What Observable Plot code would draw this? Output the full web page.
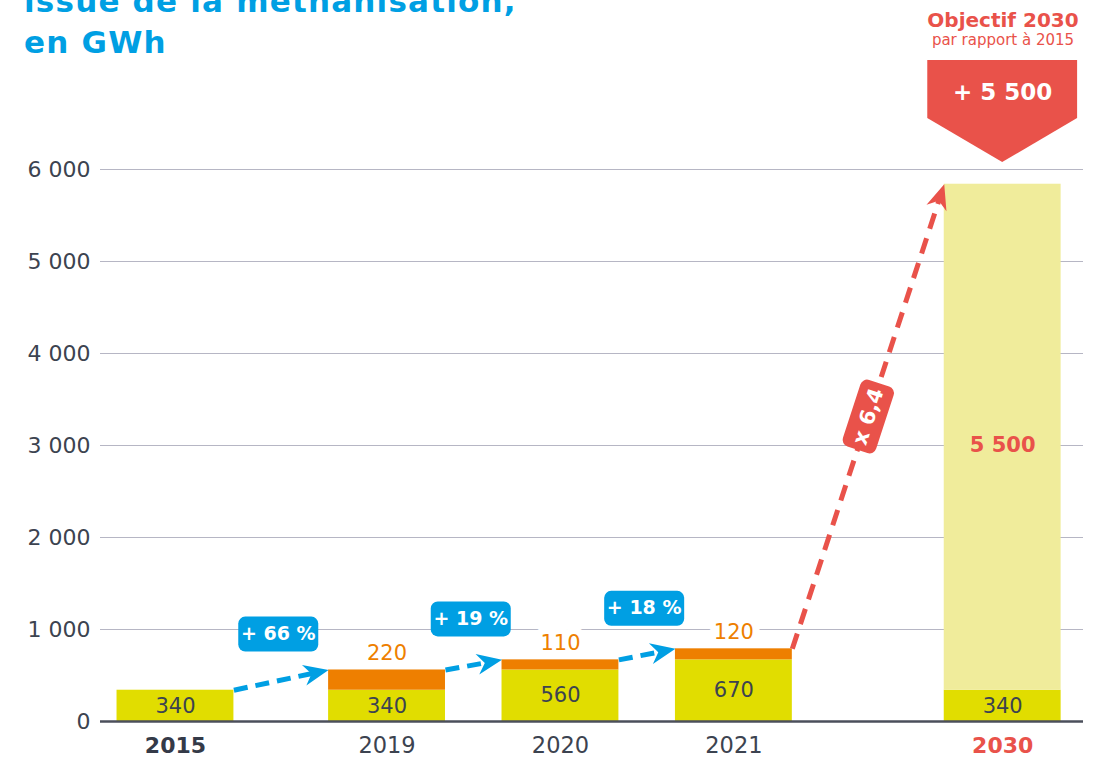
<!DOCTYPE html>
<html><head><meta charset="utf-8">
<script src="https://cdn.jsdelivr.net/npm/d3@7"></script>
<script src="https://cdn.jsdelivr.net/npm/@observablehq/plot@0.6"></script>
<style>
html,body{margin:0;padding:0;background:#fff;overflow:hidden}
#wrap{position:relative;width:1098px;height:758px;overflow:hidden;font-family:"DejaVu Sans",sans-serif}
#chart{position:absolute;left:0;top:0}
#title{position:absolute;left:24px;top:-19px;font-size:31px;font-weight:bold;line-height:41px;color:#009fe3;white-space:nowrap;letter-spacing:1.2px}
.obj{position:absolute;left:903px;width:200px;text-align:center;color:#e9524a;line-height:1;white-space:nowrap}
#obj1{top:10px;font-size:20px;font-weight:bold}
#obj2{top:33px;font-size:15px}
</style></head>
<body>
<div id="wrap">
  <div id="chart"></div>
  <div id="title">issue de la méthanisation,<br>en GWh</div>
  <div class="obj" id="obj1">Objectif 2030</div>
  <div class="obj" id="obj2">par rapport à 2015</div>
</div>
<script>
// ---- data ----
const years = ["2015", "2019", "2020", "2021", "2030"];
const base = [340, 340, 560, 670, 340];        // yellow part
const increase = [0, 220, 110, 120, 0];        // orange part (annual increase)
const objective = [0, 0, 0, 0, 5500];          // light part (2030 objective)
const growthLabels = ["+ 66 %", "+ 19 %", "+ 18 %"];
const multiplierLabel = "x 6,4";
const targetLabel = "+ 5 500";
const yTicks = [0, 1000, 2000, 3000, 4000, 5000, 6000];

// ---- layout ----
const slot = [0, 1.22, 2.22, 3.22, 4.77];
const halfBar = 0.337;
const xDomain = [-0.4323, 5.236];
const yDomain = [0, 6000];
const W = 1098, H = 758, mL = 100, mR = 15, mT = 169, mB = 37;

const C = {
  yellow: "#e1dd00", orange: "#ee7f00", light: "#f0ec9b", red: "#e9524a",
  blue: "#009fe3", text: "#3c4350", grid: "#b6b6c4", base: "#4b4f5b", dark: "#343a48"
};

const rows = years.map((year, i) => ({
  year, i, x: slot[i], base: base[i], inc: increase[i], obj: objective[i],
  top: base[i] + increase[i], total: base[i] + increase[i] + objective[i]
}));

const xs = Plot.scale({x: {domain: xDomain, range: [mL, W - mR]}});
const ys = Plot.scale({y: {domain: yDomain, range: [H - mB, mT]}});

// arrows between consecutive bars
const arrows = rows.slice(0, -1).map((r, i) => {
  const n = rows[i + 1];
  const x1 = r.x + halfBar, y1 = r.total, x2 = n.x - halfBar, y2 = n.total;
  const px1 = xs.apply(x1), py1 = ys.apply(y1), px2 = xs.apply(x2), py2 = ys.apply(y2);
  const angle = Math.atan2(py2 - py1, px2 - px1);
  const back = 14;
  const ex = xs.invert(px2 - back * Math.cos(angle)), ey = ys.invert(py2 - back * Math.sin(angle));
  return {
    x1, y1, x2, y2, ex, ey, angle,
    mx: (x1 + x2) / 2, my: (y1 + y2) / 2,
    label: i < growthLabels.length ? growthLabels[i] : multiplierLabel,
    color: i < growthLabels.length ? C.blue : C.red
  };
});
const blueArrows = arrows.filter(a => a.color === C.blue);
const redArrows = arrows.filter(a => a.color === C.red);

function rot(x, y, a) { const c = Math.cos(a), s = Math.sin(a); return [x * c - y * s, x * s + y * c]; }
function dart(a, len, wid, notch) {
  return {draw(ctx) {
    const pts = [[0, 0], [-len, -wid / 2], [-len * notch, 0], [-len, wid / 2]].map(([x, y]) => rot(x, y, a));
    ctx.moveTo(...pts[0]); pts.slice(1).forEach(p => ctx.lineTo(...p)); ctx.closePath();
  }};
}
function roundRect(w, h, r, a) {
  return {draw(ctx) {
    const P = (x, y) => rot(x, y, a);
    ctx.moveTo(...P(-w / 2 + r, -h / 2));
    ctx.arcTo(...P(w / 2, -h / 2), ...P(w / 2, h / 2), r);
    ctx.arcTo(...P(w / 2, h / 2), ...P(-w / 2, h / 2), r);
    ctx.arcTo(...P(-w / 2, h / 2), ...P(-w / 2, -h / 2), r);
    ctx.arcTo(...P(-w / 2, -h / 2), ...P(w / 2, -h / 2), r);
    ctx.closePath();
  }};
}

// objective banner (pentagon) above 2030 bar
const s4 = slot[4];
const banner = [
  {x: s4 - 0.432, y1: 6555, y2: 7185},
  {x: s4, y1: 6076, y2: 7185},
  {x: s4 + 0.432, y1: 6555, y2: 7185}
];

const fmt = d => d3.format(",")(d).replace(/,/g, " ");

const plot = Plot.plot({
  width: W, height: H,
  marginLeft: mL, marginRight: mR, marginTop: mT, marginBottom: mB,
  x: {domain: xDomain, axis: null},
  y: {domain: yDomain, axis: null},
  style: {fontFamily: "DejaVu Sans, sans-serif", background: "transparent", overflow: "visible"},
  marks: [
    Plot.ruleY(yTicks.filter(d => d > 0), {stroke: C.grid, strokeWidth: 1}),
    Plot.text(yTicks, {y: d => d, frameAnchor: "left", dx: -10, textAnchor: "end", text: fmt, fontSize: 22, fill: C.text}),
    // bars
    Plot.rectY(rows, {x1: d => d.x - halfBar, x2: d => d.x + halfBar, y1: 0, y2: d => d.base, fill: C.yellow}),
    Plot.rectY(rows.filter(d => d.inc > 0), {x1: d => d.x - halfBar, x2: d => d.x + halfBar, y1: d => d.base, y2: d => d.top, fill: C.orange}),
    Plot.rectY(rows.filter(d => d.obj > 0), {x1: d => d.x - halfBar, x2: d => d.x + halfBar, y1: d => d.top, y2: d => d.total, fill: C.light}),
    Plot.ruleY([0], {stroke: C.base, strokeWidth: 2.5}),
    // value labels
    Plot.text(rows, {x: "x", y: d => d.base / 2, text: d => fmt(d.base), fontSize: 21, fill: C.text}),
    Plot.text(rows.filter(d => d.inc > 0), {x: "x", y: "top", dy: -17, text: d => fmt(d.inc), fontSize: 21, fill: C.orange, stroke: "white", strokeWidth: 14, strokeLinejoin: "round"}),
    Plot.text(rows.filter(d => d.obj > 0), {x: "x", y: d => (d.top + d.total) / 2, dy: 8, text: d => fmt(d.obj), fontSize: 21, fontWeight: "bold", fill: C.red}),
    // x labels
    Plot.text(rows.filter(d => d.i === 0), {x: "x", y: 0, dy: 24, text: "year", fontSize: 22, fontWeight: "bold", fill: C.dark}),
    Plot.text(rows.filter(d => d.i > 0 && d.i < 4), {x: "x", y: 0, dy: 24, text: "year", fontSize: 22.5, fill: C.text}),
    Plot.text(rows.filter(d => d.i === 4), {x: "x", y: 0, dy: 24, text: "year", fontSize: 22, fontWeight: "bold", fill: C.red}),
    // arrows
    Plot.link(blueArrows, {x1: "x1", y1: "y1", x2: "ex", y2: "ey", stroke: C.blue, strokeWidth: 5, strokeDasharray: "14,8"}),
    Plot.link(redArrows, {x1: "x1", y1: "y1", x2: "ex", y2: "ey", stroke: C.red, strokeWidth: 5, strokeDasharray: "16,10"}),
    ...arrows.map(a => Plot.dot([a], {x: "x2", y: "y2", r: 10, symbol: dart(a.angle, 25, 21, 0.7), fill: a.color, stroke: "none"})),
    // growth labels
    Plot.dot(blueArrows, {x: "mx", y: "my", dx: -3, dy: -46, r: 10, symbol: roundRect(80, 35, 7, 0), fill: C.blue, stroke: "none"}),
    Plot.text(blueArrows, {x: "mx", y: "my", dx: -3, dy: -46, text: "label", fontSize: 19, fontWeight: "bold", fill: "white"}),
    ...redArrows.map(a => Plot.dot([a], {x: "mx", y: "my", r: 10, symbol: roundRect(70, 35, 7, a.angle), fill: C.red, stroke: "none"})),
    ...redArrows.map(a => Plot.text([a], {x: "mx", y: "my", text: "label", rotate: a.angle * 180 / Math.PI, fontSize: 21, fontWeight: "bold", fill: "white"})),
    // objective banner
    Plot.areaY(banner, {x: "x", y1: "y1", y2: "y2", fill: C.red}),
    Plot.text([targetLabel], {x: s4, y: 6837, text: d => d, fontSize: 23, fontWeight: "bold", fill: "white"})
  ]
});
document.getElementById("chart").appendChild(plot);
</script>
</body></html>
